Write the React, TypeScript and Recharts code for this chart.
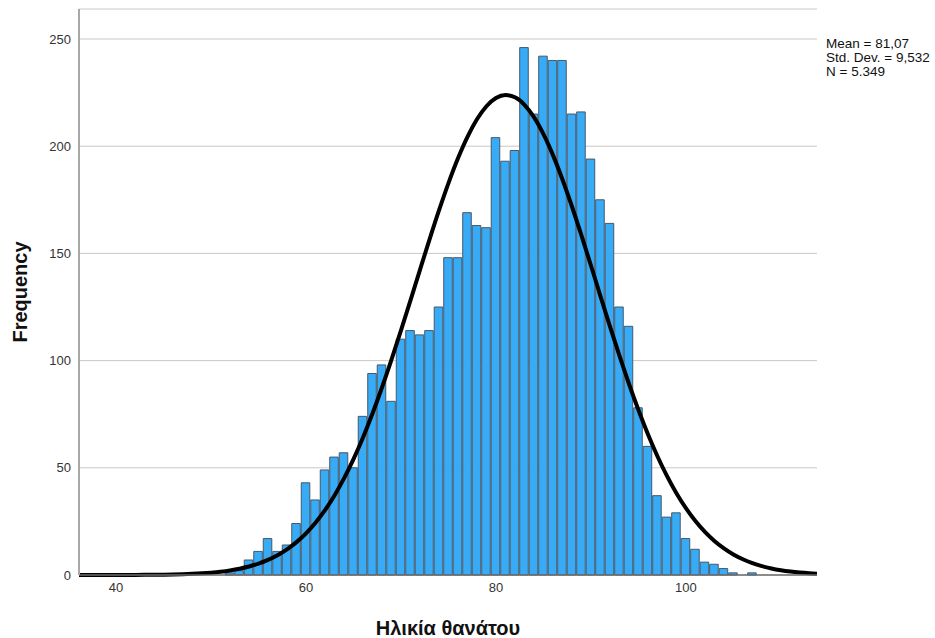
import React from 'react';
import { ComposedChart, Bar, Line, XAxis, YAxis, CartesianGrid, Label } from 'recharts';

// age at death, one bin per year (bin centres)
const ages = [
  52, 53, 54, 55, 56, 57, 58, 59, 60, 61, 62, 63, 64, 65, 66, 67, 68, 69, 70, 71,
  72, 73, 74, 75, 76, 77, 78, 79, 80, 81, 82, 83, 84, 85, 86, 87, 88, 89, 90, 91,
  92, 93, 94, 95, 96, 97, 98, 99, 100, 101, 102, 103, 104, 105, 106, 107,
];
const counts = [
  1, 2, 7, 11, 17, 11, 14, 24, 43, 35, 49, 55, 57, 50, 74, 94, 98, 81, 110, 114,
  112, 114, 125, 148, 148, 169, 163, 162, 204, 193, 198, 246, 215, 242, 240, 240, 215, 216, 194, 175,
  164, 125, 116, 78, 60, 37, 27, 29, 17, 12, 6, 5, 3, 1, 0, 1,
];

const xTicks = [40, 60, 80, 100];
const yTicks = [0, 50, 100, 150, 200, 250];

const mean = 81.07;
const stdDev = 9.532;
const n = 5349;

const statLines = ['Mean = 81,07', 'Std. Dev. = 9,532', 'N = 5.349'];

const FONT = '"Liberation Sans", Arial, sans-serif';

// fitted normal curve scaled to a 1-year bin
const normal = (x: number) =>
  (n / (stdDev * Math.sqrt(2 * Math.PI))) * Math.exp(-((x - mean) ** 2) / (2 * stdDev * stdDev));

const countByAge = new Map(ages.map((a, i) => [a, counts[i]]));
const data: { x: number; count: number | null; curve: number }[] = [];
for (let x = 36; x <= 114; x++) {
  data.push({ x, count: countByAge.has(x) ? (countByAge.get(x) as number) : null, curve: normal(x) });
}

export default function App() {
  return (
    <div style={{ position: 'absolute', left: 0, top: 0, width: 935, height: 638, background: '#fff', fontFamily: FONT }}>
      <ComposedChart
        width={935}
        height={638}
        data={data}
        barCategoryGap={0}
        barGap={0}
        margin={{ top: 9, right: 118, bottom: 33, left: 0 }}
      >
        <CartesianGrid vertical={false} stroke="#c8c8c8" />
        <XAxis
          dataKey="x"
          type="number"
          domain={[36.1, 113.8]}
          allowDataOverflow
          ticks={xTicks}
          tickLine={false}
          axisLine={{ stroke: '#6e6e6e', strokeWidth: 1.5 }}
          tick={{ fontSize: 13, fill: '#333', fontFamily: FONT }}
          height={30}
        >
          <Label
            content={() => (
              <text x={448} y={635} textAnchor="middle" fontSize={20} fontWeight="bold" fill="#111" fontFamily={FONT}>
                Ηλικία θανάτου
              </text>
            )}
          />
        </XAxis>
        <YAxis
          type="number"
          domain={[0, 264]}
          ticks={yTicks}
          width={79}
          tickLine={false}
          axisLine={{ stroke: '#a8a8a8', strokeWidth: 2 }}
          tick={{ fontSize: 13, fill: '#333', fontFamily: FONT }}
        >
          <Label
            content={() => (
              <text
                x={27}
                y={292}
                transform="rotate(-90, 27, 292)"
                textAnchor="middle"
                fontSize={20}
                fontWeight="bold"
                fill="#111"
                fontFamily={FONT}
              >
                Frequency
              </text>
            )}
          />
        </YAxis>
        <Bar dataKey="count" barSize={9.5} fill="#38abf6" stroke="#44586b" strokeWidth={1} isAnimationActive={false} />
        <Line dataKey="curve" type="monotone" stroke="#000" strokeWidth={4} dot={false} activeDot={false} isAnimationActive={false} />
      </ComposedChart>
      <div style={{ position: 'absolute', left: 826, top: 37, fontSize: 13.5, lineHeight: '14px', color: '#111', whiteSpace: 'pre' }}>
        {statLines.map((s) => (
          <div key={s}>{s}</div>
        ))}
      </div>
    </div>
  );
}
